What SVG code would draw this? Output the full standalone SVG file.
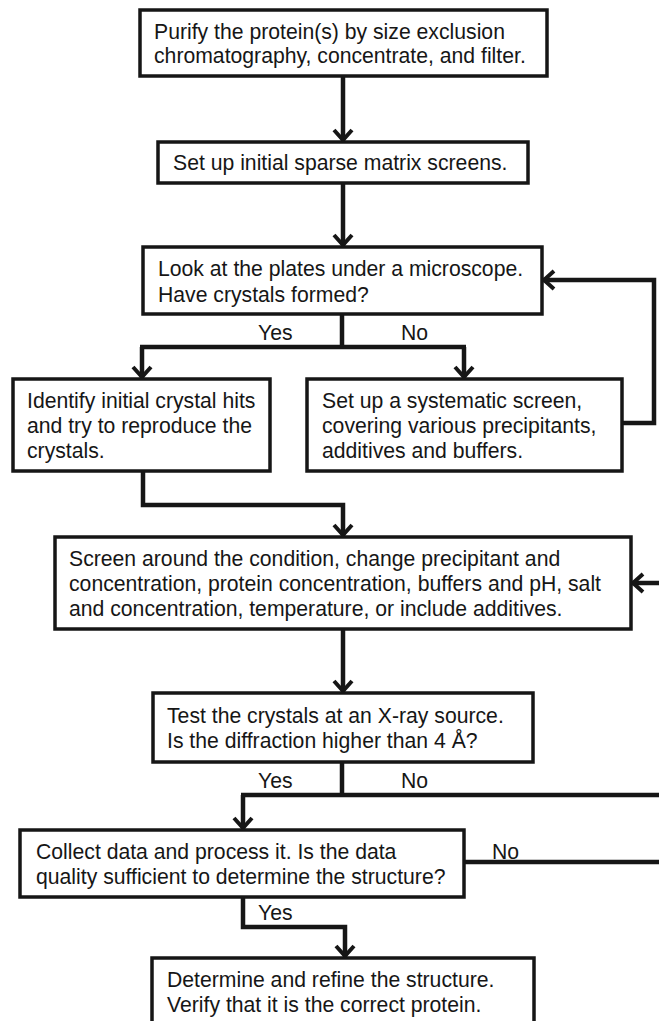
<svg xmlns="http://www.w3.org/2000/svg" width="659" height="1021" viewBox="0 0 659 1021">
<style>
.box{fill:#fff;stroke:#161616;stroke-width:3.5}
.t{font-family:"Liberation Sans",Arial,sans-serif;font-size:21.2px;fill:#161616}
.c{fill:none;stroke:#161616;stroke-width:4.5;stroke-linejoin:miter}
.a{marker-end:url(#arr)}
</style>
<defs>
<marker id="arr" viewBox="-14 -12 16 24" refX="0" refY="0" markerWidth="16" markerHeight="24" orient="auto" markerUnits="userSpaceOnUse">
<path d="M-11,-9 L-1,0 L-11,9" fill="none" stroke="#161616" stroke-width="4"/>
</marker>
</defs>
<rect width="659" height="1021" fill="#fff"/>
<g id="connectors">
<path class="c a" d="M343,76 V141"/>
<path class="c a" d="M343,183 V246"/>
<path class="c" d="M342,314 V347 M140,347 H466"/>
<path class="c a" d="M142,347 V378"/>
<path class="c a" d="M464,347 V378"/>
<path class="c a" d="M622,423 H654 V280 H543"/>
<path class="c a" d="M143,471 V505 H343 V536"/>
<path class="c a" d="M659,583 H632"/>
<path class="c a" d="M343,629 V692"/>
<path class="c" d="M342,762 V795 M241,795 H659"/>
<path class="c a" d="M243,795 V829"/>
<path class="c" d="M464,862 H659"/>
<path class="c a" d="M243,897 V927 H345 V957"/>
<text class="t" x="258" y="340">Yes</text>
<text class="t" x="401" y="340">No</text>
<text class="t" x="258" y="788">Yes</text>
<text class="t" x="401" y="788">No</text>
<text class="t" x="492" y="859">No</text>
<text class="t" x="258" y="920">Yes</text>
</g>
<g id="n1">
<rect class="box" x="140" y="10" width="407" height="66"/>
<text class="t" x="154" y="39">Purify the protein(s) by size exclusion</text>
<text class="t" x="154" y="63">chromatography, concentrate, and filter.</text>
</g>
<g id="n2">
<rect class="box" x="158" y="142" width="370" height="41"/>
<text class="t" x="173" y="170">Set up initial sparse matrix screens.</text>
</g>
<g id="n3">
<rect class="box" x="143" y="247" width="399" height="67"/>
<text class="t" x="158" y="276">Look at the plates under a microscope.</text>
<text class="t" x="158" y="302">Have crystals formed?</text>
</g>
<g id="n4">
<rect class="box" x="13" y="379" width="257" height="92"/>
<text class="t" x="27" y="408">Identify initial crystal hits</text>
<text class="t" x="27" y="433">and try to reproduce the</text>
<text class="t" x="27" y="458">crystals.</text>
</g>
<g id="n5">
<rect class="box" x="307" y="379" width="315" height="92"/>
<text class="t" x="322" y="408">Set up a systematic screen,</text>
<text class="t" x="322" y="433">covering various precipitants,</text>
<text class="t" x="322" y="458">additives and buffers.</text>
</g>
<g id="n6">
<rect class="box" x="55" y="537" width="576" height="92"/>
<text class="t" x="69" y="566">Screen around the condition, change precipitant and</text>
<text class="t" x="69" y="591">concentration, protein concentration, buffers and pH, salt</text>
<text class="t" x="69" y="616">and concentration, temperature, or include additives.</text>
</g>
<g id="n7">
<rect class="box" x="153" y="693" width="380" height="69"/>
<text class="t" x="167" y="723">Test the crystals at an X-ray source.</text>
<text class="t" x="167" y="748">Is the diffraction higher than 4 Å?</text>
</g>
<g id="n8">
<rect class="box" x="20" y="830" width="444" height="67"/>
<text class="t" x="36" y="859">Collect data and process it. Is the data</text>
<text class="t" x="36" y="884">quality sufficient to determine the structure?</text>
</g>
<g id="n9">
<rect class="box" x="152" y="958" width="382" height="80"/>
<text class="t" x="167" y="987">Determine and refine the structure.</text>
<text class="t" x="167" y="1012">Verify that it is the correct protein.</text>
</g>
</svg>
